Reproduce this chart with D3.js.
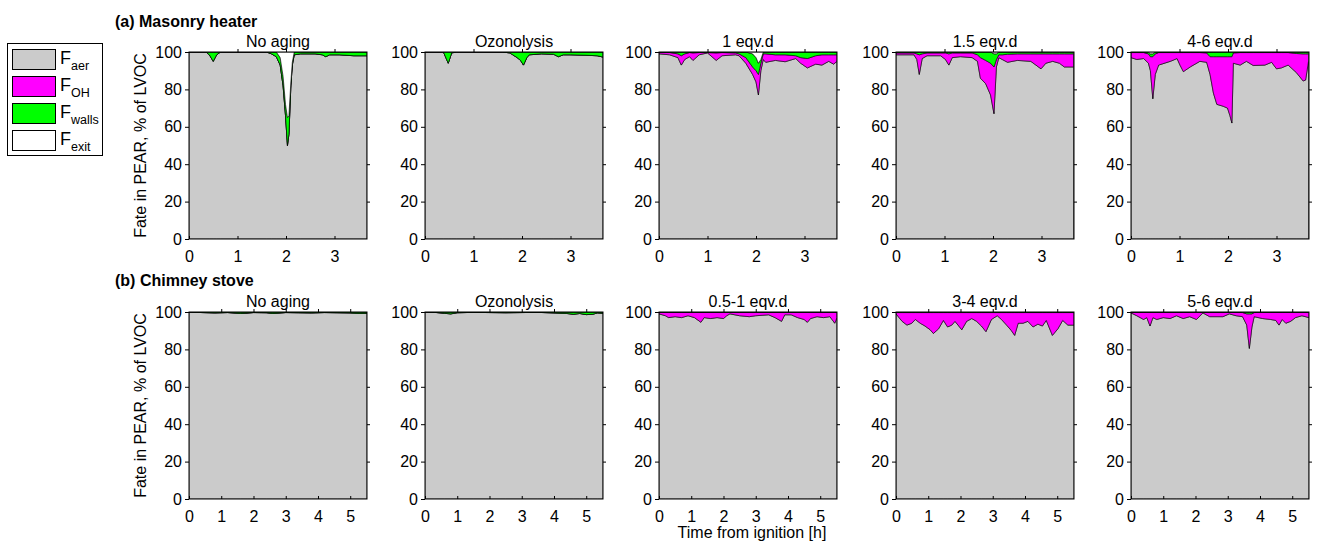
<!DOCTYPE html>
<html>
<head>
<meta charset="utf-8">
<script src="https://cdn.jsdelivr.net/npm/d3@7"></script>
<style>
  body { margin: 0; background: #fff; }
  svg { display: block; }
  text { font-family: "Liberation Sans", Arial, Helvetica, sans-serif; fill: #000; }
</style>
</head>
<body>
<svg id="chart" width="1317" height="545"></svg>
<script>
// ---------------- labels ----------------
const rowTitles = ["(a) Masonry heater", "(b) Chimney stove"];
const panelTitlesA = ["No aging", "Ozonolysis", "1 eqv.d", "1.5 eqv.d", "4-6 eqv.d"];
const panelTitlesB = ["No aging", "Ozonolysis", "0.5-1 eqv.d", "3-4 eqv.d", "5-6 eqv.d"];
const yTicks = [0, 20, 40, 60, 80, 100];
const xTicksA = [0, 1, 2, 3];
const xTicksB = [0, 1, 2, 3, 4, 5];
const xLabel = "Time from ignition [h]";
const yLabel = "Fate in PEAR, % of LVOC";
const legendKeys = ["aer", "OH", "walls", "exit"];

// ---------------- (a) Masonry heater, % of LVOC ----------------
const a1Time  = [0, 0.35, 0.42, 0.5, 0.57, 0.65, 1.6, 1.7, 1.8, 1.88, 1.94, 1.99, 2.03, 2.06, 2.1, 2.13, 2.17, 2.3, 2.6, 2.75, 2.82, 2.9, 3.1, 3.4, 3.67];
const a1Aer   = [100, 100, 98.5, 95, 98.5, 100, 100, 99, 97.5, 93, 82, 66, 50, 56, 82, 93, 98.5, 99, 99, 98.5, 97.5, 98.5, 98.5, 98, 98];
const a1Walls = [0, 0, 1.5, 5, 1.5, 0, 0, 1, 2.5, 4, 5, 6, 15, 10, 2, 1.5, 1.5, 1, 1, 1.5, 2.5, 1.5, 1.5, 2, 2];

const a2Time  = [0, 0.38, 0.48, 0.55, 0.65, 1.6, 1.75, 1.9, 1.97, 2.03, 2.1, 2.15, 2.4, 2.65, 2.75, 2.85, 3.0, 3.3, 3.55, 3.67];
const a2Aer   = [100, 100, 94, 99.5, 100, 100, 99.5, 97, 95.5, 93, 97, 98.5, 99, 98.8, 97.5, 98.5, 98.5, 98.3, 98, 97.3];
const a2Walls = [0, 0, 6, 0.5, 0, 0, 0.5, 3, 4.5, 7, 3, 1.5, 1, 1.2, 2.5, 1.5, 1.5, 1.7, 2, 2.7];

const a3Time  = [0, 0.22, 0.39, 0.46, 0.53, 0.63, 0.7, 0.83, 1.0, 1.18, 1.3, 1.58, 1.65, 1.79, 1.93, 2.0, 2.05, 2.1, 2.15, 2.2, 2.4, 2.6, 2.82, 2.92, 3.06, 3.23, 3.36, 3.5, 3.6, 3.67];
const a3Aer   = [99, 98.5, 97, 93, 96, 97.5, 95.5, 98.5, 99.5, 95.5, 98, 98.5, 98, 94, 88, 84, 77, 90, 96, 94.5, 95.5, 94.8, 96.5, 94, 91.5, 93.5, 93, 95, 93.5, 95];
const a3OH    = [0.7, 1.2, 2, 5, 3, 2.2, 4, 1.2, 0.2, 4, 1.7, 1, 1, 3, 4, 6, 11, 4, 3, 4.5, 3, 3.7, 1.5, 3, 5, 4.5, 5.5, 3.5, 5, 3.5];
const a3Walls = [0.3, 0.3, 1, 2, 1, 0.3, 0.5, 0.3, 0.3, 0.5, 0.3, 0.5, 1, 3, 7, 7, 6, 2, 1, 1, 1.5, 1.5, 2, 3, 3.5, 2, 1.5, 1.5, 1.5, 1.5];

const a4Time  = [0, 0.37, 0.43, 0.48, 0.54, 0.64, 0.92, 1.02, 1.09, 1.16, 1.33, 1.57, 1.68, 1.74, 1.85, 1.95, 2.02, 2.07, 2.12, 2.19, 2.3, 2.5, 2.78, 2.99, 3.09, 3.23, 3.37, 3.47, 3.66];
const a4Aer   = [98.5, 98.5, 96, 88, 96.5, 98, 98, 96, 93, 97, 97.5, 97, 95, 86, 83, 77, 67, 92, 97, 96, 94.5, 95.5, 95, 91, 94, 95, 94, 92, 92];
const a4OH    = [1, 1, 3, 10.5, 2.5, 1.5, 1.5, 3.5, 6, 2.5, 2, 2.5, 3.5, 11, 12.5, 17, 25, 4, 1.5, 2.5, 4.3, 3.5, 4, 8, 5, 4, 5, 7, 7];
const a4Walls = [0.5, 0.5, 1, 1.5, 1, 0.5, 0.5, 0.5, 1, 0.5, 0.5, 0.5, 1.5, 3, 4.5, 6, 7, 3, 1.5, 1.5, 1.2, 1, 1, 1, 1, 1, 1, 1, 1];

const a5Time  = [0, 0.12, 0.26, 0.36, 0.4, 0.45, 0.5, 0.57, 0.81, 0.95, 1.01, 1.08, 1.22, 1.42, 1.56, 1.63, 1.7, 1.77, 1.9, 1.99, 2.04, 2.08, 2.11, 2.25, 2.38, 2.52, 2.76, 2.9, 3.0, 3.1, 3.24, 3.41, 3.55, 3.6, 3.66];
const a5Aer   = [97, 96, 96.5, 94, 90, 75, 88, 93, 95, 96.5, 93, 89.5, 92, 95, 94.5, 88, 78, 72, 71, 70, 66, 62, 94, 93, 95, 92.8, 93, 94.5, 91, 91.5, 93, 89, 84.5, 85, 95];
const a5OH    = [2.7, 3.7, 3.2, 5, 7.5, 22.5, 11, 6.7, 4.7, 3.2, 6.7, 10.2, 7.7, 4.7, 5, 9.5, 19.5, 25.5, 26.5, 27.5, 31.5, 35.5, 5.5, 6.7, 4.7, 6.9, 6.7, 5.2, 8.7, 8.2, 6.7, 10.2, 14.5, 14, 4];
const a5Walls = [0.3, 0.3, 0.3, 1, 1.5, 1.5, 1, 0.3, 0.3, 0.3, 0.3, 0.3, 0.3, 0.3, 0.5, 2.5, 2.5, 2.5, 2.5, 2.5, 2.5, 2.5, 0.5, 0.3, 0.3, 0.3, 0.3, 0.3, 0.3, 0.3, 0.3, 0.8, 1, 1, 1];

// ---------------- (b) Chimney stove, % of LVOC ----------------
const b1Time  = [0, 0.4, 0.8, 1.2, 1.6, 1.8, 2.0, 2.4, 2.6, 3.0, 3.4, 3.8, 4.2, 4.6, 5.0, 5.3, 5.52];
const b1Aer   = [100, 99.7, 99.5, 99.7, 99.2, 99.4, 99.7, 99.6, 99.2, 99.7, 99.6, 99.5, 99.7, 99.6, 99.5, 99.2, 99.3];
const b1Walls = [0, 0.3, 0.5, 0.3, 0.8, 0.6, 0.3, 0.4, 0.8, 0.3, 0.4, 0.5, 0.3, 0.4, 0.5, 0.8, 0.7];

const b2Time  = [0, 0.3, 0.6, 0.8, 1.0, 1.5, 2.0, 2.5, 3.0, 3.5, 4.0, 4.4, 4.6, 4.8, 5.0, 5.2, 5.35, 5.52];
const b2Aer   = [100, 99.8, 99.3, 99.0, 99.6, 99.8, 99.7, 99.6, 99.7, 99.8, 99.5, 99.2, 98.8, 99.2, 98.6, 98.8, 99.5, 99.3];
const b2Walls = [0, 0.2, 0.7, 1.0, 0.4, 0.2, 0.3, 0.4, 0.3, 0.2, 0.5, 0.8, 1.2, 0.8, 1.4, 1.2, 0.5, 0.7];

const b3Time  = [0, 0.2, 0.3, 0.5, 0.7, 0.9, 1.1, 1.3, 1.4, 1.6, 1.8, 2.0, 2.1, 2.2, 2.5, 2.8, 3.0, 3.4, 3.6, 3.8, 3.9, 4.1, 4.3, 4.5, 4.6, 4.7, 4.9, 5.1, 5.3, 5.45, 5.52];
const b3Aer   = [99, 98, 97, 97.5, 97, 98, 97, 94.5, 97, 96.5, 97, 96.5, 98, 99, 98, 97.5, 98, 98.5, 97, 95, 98.5, 98.5, 97, 96, 94.5, 96.5, 97.5, 97, 97.5, 94, 97];
const b3OH    = [0.8, 1.8, 2.8, 2.3, 2.8, 1.8, 2.8, 5.3, 2.8, 3.3, 2.8, 3.3, 1.8, 0.8, 1.8, 2.3, 1.8, 1.3, 2.8, 4.8, 1.3, 1.3, 2.8, 3.8, 5.3, 3.3, 2.3, 2.8, 2.3, 5.8, 2.8];
const b3Walls = [0.2, 0.2, 0.2, 0.2, 0.2, 0.2, 0.2, 0.2, 0.2, 0.2, 0.2, 0.2, 0.2, 0.2, 0.2, 0.2, 0.2, 0.2, 0.2, 0.2, 0.2, 0.2, 0.2, 0.2, 0.2, 0.2, 0.2, 0.2, 0.2, 0.2, 0.2];

const b4Time  = [0, 0.19, 0.34, 0.49, 0.6, 0.75, 0.9, 1.06, 1.16, 1.32, 1.47, 1.6, 1.73, 1.83, 2.04, 2.19, 2.35, 2.5, 2.65, 2.79, 2.96, 3.14, 3.27, 3.43, 3.58, 3.68, 3.79, 3.94, 4.09, 4.25, 4.4, 4.54, 4.66, 4.85, 5.02, 5.17, 5.33, 5.52];
const b4Aer   = [99, 95, 93, 94, 96, 94, 92.5, 90.5, 88.5, 91, 95.5, 92, 93, 95, 90.5, 95, 96.5, 95, 92.5, 89.5, 96, 98, 96, 93, 90, 87.5, 94, 94, 95, 92, 93.5, 92.5, 95.5, 87.5, 91, 95.5, 93, 93];
const b4OH    = [0.7, 4.7, 6.7, 5.7, 3.7, 5.7, 7.2, 9.2, 11.2, 8.7, 4.2, 7.7, 6.7, 4.7, 9.2, 4.7, 3.2, 4.7, 7.2, 10.2, 3.7, 1.7, 3.7, 6.7, 9.7, 12.2, 5.7, 5.7, 4.7, 7.7, 6.2, 7.2, 4.2, 12.2, 8.7, 4.2, 6.7, 6.7];
const b4Walls = [0.3, 0.3, 0.3, 0.3, 0.3, 0.3, 0.3, 0.3, 0.3, 0.3, 0.3, 0.3, 0.3, 0.3, 0.3, 0.3, 0.3, 0.3, 0.3, 0.3, 0.3, 0.3, 0.3, 0.3, 0.3, 0.3, 0.3, 0.3, 0.3, 0.3, 0.3, 0.3, 0.3, 0.3, 0.3, 0.3, 0.3, 0.3];

const b5Time  = [0, 0.18, 0.39, 0.49, 0.59, 0.68, 0.8, 1.0, 1.21, 1.41, 1.62, 1.82, 2.03, 2.23, 2.44, 2.85, 3.05, 3.26, 3.46, 3.59, 3.67, 3.75, 3.82, 4.08, 4.33, 4.49, 4.59, 4.69, 4.8, 4.95, 5.1, 5.3, 5.52];
const b5Aer   = [99.5, 98, 96, 97, 92.5, 97, 96, 97, 96.5, 98, 96.5, 97.5, 96, 99.5, 97.5, 97.5, 99, 98, 97.5, 93, 80.5, 92, 97.5, 96.5, 96, 95.5, 93, 96, 94, 95, 97, 98, 97];
const b5OH    = [0.3, 1.8, 3.8, 2.8, 7.3, 2.8, 3.8, 2.8, 3.3, 1.8, 3.3, 2.3, 3.8, 0.3, 2.3, 2.3, 0.8, 1.8, 2.2, 6, 18.5, 7, 2.2, 3.3, 3.8, 4.3, 6.8, 3.8, 5.8, 4.8, 2.8, 1.8, 2.8];
const b5Walls = [0.2, 0.2, 0.2, 0.2, 0.2, 0.2, 0.2, 0.2, 0.2, 0.2, 0.2, 0.2, 0.2, 0.2, 0.2, 0.2, 0.2, 0.2, 0.3, 1, 1, 1, 0.3, 0.2, 0.2, 0.2, 0.2, 0.2, 0.2, 0.2, 0.2, 0.2, 0.2];

// ---------------- panel definitions ----------------
const panels = [
  { row: 0, col: 0, title: panelTitlesA[0], t: a1Time, aer: a1Aer, oh: null,  walls: a1Walls },
  { row: 0, col: 1, title: panelTitlesA[1], t: a2Time, aer: a2Aer, oh: null,  walls: a2Walls },
  { row: 0, col: 2, title: panelTitlesA[2], t: a3Time, aer: a3Aer, oh: a3OH,  walls: a3Walls },
  { row: 0, col: 3, title: panelTitlesA[3], t: a4Time, aer: a4Aer, oh: a4OH,  walls: a4Walls },
  { row: 0, col: 4, title: panelTitlesA[4], t: a5Time, aer: a5Aer, oh: a5OH,  walls: a5Walls },
  { row: 1, col: 0, title: panelTitlesB[0], t: b1Time, aer: b1Aer, oh: null,  walls: b1Walls },
  { row: 1, col: 1, title: panelTitlesB[1], t: b2Time, aer: b2Aer, oh: null,  walls: b2Walls },
  { row: 1, col: 2, title: panelTitlesB[2], t: b3Time, aer: b3Aer, oh: b3OH,  walls: b3Walls },
  { row: 1, col: 3, title: panelTitlesB[3], t: b4Time, aer: b4Aer, oh: b4OH,  walls: b4Walls },
  { row: 1, col: 4, title: panelTitlesB[4], t: b5Time, aer: b5Aer, oh: b5OH,  walls: b5Walls }
];

// ---------------- layout & style ----------------
const colLeft = [189, 425, 659, 896, 1131];
const rowTop = [52, 312];
const panelW = 178, panelH = 187;
const rowXMax = [3.67, 5.52];
const rowXTicks = [xTicksA, xTicksB];
const fillColors = { aer: "#cbcbcb", OH: "#ff00ff", walls: "#00ff00", exit: "#ffffff" };
const fontSize = 16;

const svg = d3.select("#chart");
const defs = svg.append("defs");

// row headings
rowTitles.forEach((txt, r) => {
  svg.append("text")
    .attr("x", 115).attr("y", r === 0 ? 27 : 286)
    .attr("font-size", 16).attr("font-weight", "bold")
    .text(txt);
});

panels.forEach((p, i) => {
  const x0 = colLeft[p.col], y0 = rowTop[p.row];
  const g = svg.append("g").attr("transform", `translate(${x0},${y0})`);

  const x = d3.scaleLinear().domain([0, rowXMax[p.row]]).range([0, panelW]);
  const y = d3.scaleLinear().domain([0, 100]).range([panelH, 0]);

  // rows of the stacked table; exit is the remainder of the 100 %
  const rows = p.t.map((t, k) => {
    const aer = p.aer[k];
    const oh = p.oh ? p.oh[k] : 0;
    const walls = p.walls[k];
    return { t, aer, OH: oh, walls, exit: Math.max(0, 100 - aer - oh - walls) };
  });
  const series = d3.stack().keys(legendKeys)(rows);

  const clipId = "clip" + i;
  defs.append("clipPath").attr("id", clipId)
    .append("rect").attr("width", panelW).attr("height", panelH);

  const area = d3.area()
    .x(d => x(d.data.t))
    .y0(d => y(d[0]))
    .y1(d => y(d[1]));

  g.append("g").attr("clip-path", `url(#${clipId})`)
    .selectAll("path")
    .data(series)
    .join("path")
      .attr("d", area)
      .attr("fill", s => fillColors[s.key])
      .attr("stroke", "#000")
      .attr("stroke-width", 0.6)
      .attr("stroke-linejoin", "round");

  // left axis
  const yAxis = d3.axisLeft(y).tickValues(yTicks).tickSize(4).tickPadding(3);
  const ya = g.append("g").call(yAxis);
  ya.select(".domain").remove();
  ya.selectAll("text").attr("font-size", fontSize).attr("font-family", null);
  ya.selectAll("line").attr("stroke", "#000");

  // right mirror ticks
  const yr = g.append("g").attr("transform", `translate(${panelW},0)`)
    .call(d3.axisRight(y).tickValues(yTicks.slice(1, -1)).tickSize(3).tickFormat(""));
  yr.select(".domain").remove();
  yr.selectAll("line").attr("stroke", "#000");

  // bottom axis
  const xAxis = d3.axisBottom(x).tickValues(rowXTicks[p.row]).tickSize(-3).tickPadding(12).tickFormat(d3.format("d"));
  const xa = g.append("g").attr("transform", `translate(0,${panelH})`).call(xAxis);
  xa.select(".domain").remove();
  xa.selectAll("text").attr("font-size", fontSize).attr("font-family", null);
  xa.selectAll("line").attr("stroke", "#000");

  // top mirror ticks
  const xt = g.append("g")
    .call(d3.axisTop(x).tickValues(rowXTicks[p.row].slice(1)).tickSize(3).tickFormat(""));
  xt.select(".domain").remove();
  xt.selectAll("line").attr("stroke", "#000");

  // frame
  g.append("rect")
    .attr("width", panelW).attr("height", panelH)
    .attr("fill", "none").attr("stroke", "#000").attr("stroke-width", 1);

  // panel title
  g.append("text")
    .attr("x", panelW / 2).attr("y", -5)
    .attr("text-anchor", "middle")
    .attr("font-size", fontSize)
    .text(p.title);

  // y label on the first column
  if (p.col === 0) {
    svg.append("text")
      .attr("transform", `translate(146,${y0 + panelH / 2}) rotate(-90)`)
      .attr("text-anchor", "middle")
      .attr("font-size", fontSize)
      .text(yLabel);
  }
});

// x label under the middle column of the lower row
svg.append("text")
  .attr("x", colLeft[2] + panelW / 2 + 4).attr("y", 538)
  .attr("text-anchor", "middle")
  .attr("font-size", fontSize)
  .text(xLabel);

// legend
const lg = svg.append("g");
lg.append("rect")
  .attr("x", 7.5).attr("y", 43.5).attr("width", 95).attr("height", 112)
  .attr("fill", "#fff").attr("stroke", "#000").attr("stroke-width", 1);
legendKeys.forEach((k, i) => {
  const top = 49 + i * 27;
  lg.append("rect")
    .attr("x", 12.5).attr("y", top + 0.5).attr("width", 43).attr("height", 20)
    .attr("fill", fillColors[k]).attr("stroke", "#000").attr("stroke-width", 1);
  const t = lg.append("text").attr("x", 60).attr("y", top + 14.5).attr("font-size", 18);
  t.append("tspan").text("F");
  t.append("tspan").attr("font-size", 12.5).attr("dy", 6.5).text(k);
});
</script>
</body>
</html>
